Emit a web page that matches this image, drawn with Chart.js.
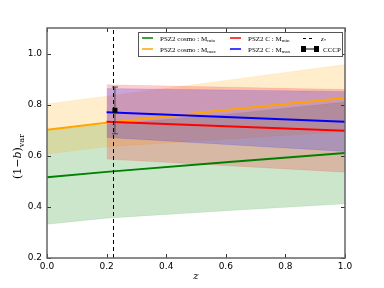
<!DOCTYPE html>
<html>
<head>
<meta charset="UTF-8">
<title>(1-b) vs z</title>
<script src="https://cdn.jsdelivr.net/npm/chart.js"></script>
<style>
    body { margin: 0; background: #fff; }
    #wrap { width: 384px; height: 288px; }
</style>
</head>
<body>
<div id="wrap"><canvas id="chart" width="384" height="288"></canvas></div>
<script>
// tick labels
const xTicks = [0.0, 0.2, 0.4, 0.6, 0.8, 1.0];
const yTicks = [0.2, 0.4, 0.6, 0.8, 1.0];

// PSZ2 cosmo : Mmin (green)
const cosmoMinZ = [0.0, 0.2, 0.6, 1.0];
const cosmoMinMid = [0.516, 0.537, 0.575, 0.611];
const cosmoMinLo = [0.332, 0.356, 0.385, 0.412];
const cosmoMinHi = [0.700, 0.722, 0.762, 0.810];

// PSZ2 cosmo : Mmax (orange)
const cosmoMaxZ = [0.0, 0.2, 0.6, 1.0];
const cosmoMaxMid = [0.702, 0.729, 0.779, 0.826];
const cosmoMaxLo = [0.607, 0.635, 0.665, 0.695];
const cosmoMaxHi = [0.803, 0.833, 0.895, 0.957];

// PSZ2 C : Mmin (red)
const cMinZ = [0.2, 1.0];
const cMinMid = [0.733, 0.698];
const cMinLo = [0.587, 0.536];
const cMinHi = [0.878, 0.859];

// PSZ2 C : Mmax (blue)
const cMaxZ = [0.2, 1.0];
const cMaxMid = [0.770, 0.733];
const cMaxLo = [0.672, 0.617];
const cMaxHi = [0.863, 0.852];

// z* and CCCP point
const zStar = 0.222;
const cccpZ = 0.228;
const cccpVal = 0.778;
const cccpLo = 0.686;
const cccpHi = 0.869;

const pts = (xs, ys) => xs.map((x, i) => ({ x: x, y: ys[i] }));

function band(xs, hi, lo, fillColor, order) {
    return [
        { data: pts(xs, hi), fill: '+1', backgroundColor: fillColor, borderColor: fillColor,
          borderWidth: 0.5, pointRadius: 0, order: order },
        { data: pts(xs, lo), fill: false, borderColor: fillColor, borderWidth: 0.5,
          pointRadius: 0, order: order }
    ];
}

function line(xs, ys, color, order) {
    return { data: pts(xs, ys), fill: false, borderColor: color, borderWidth: 2,
             pointRadius: 0, order: order };
}

const datasets = [
    ...band(cosmoMinZ, cosmoMinHi, cosmoMinLo, 'rgba(0,128,0,0.2)', 13),
    ...band(cosmoMaxZ, cosmoMaxHi, cosmoMaxLo, 'rgba(255,165,0,0.2)', 12),
    ...band(cMinZ, cMinHi, cMinLo, 'rgba(255,0,0,0.2)', 11),
    ...band(cMaxZ, cMaxHi, cMaxLo, 'rgba(0,0,255,0.2)', 10),
    line(cosmoMinZ, cosmoMinMid, '#008000', 4),
    line(cosmoMaxZ, cosmoMaxMid, '#ffa500', 3),
    line(cMinZ, cMinMid, '#ff0000', 2),
    line(cMaxZ, cMaxMid, '#0000ff', 1)
];

// draw text pieces one after another
function drawParts(ctx, x, y, parts) {
    ctx.textAlign = 'left';
    ctx.textBaseline = 'alphabetic';
    parts.forEach(p => {
        ctx.font = p.font;
        ctx.fillText(p.t, x, y + (p.dy || 0));
        x += ctx.measureText(p.t).width;
    });
    return x;
}

const extras = {
    id: 'extras',
    afterDatasetsDraw(chart) {
        const ctx = chart.ctx;
        const xs = chart.scales.x, ys = chart.scales.y;
        const a = chart.chartArea;
        ctx.save();
        // z* dashed line
        ctx.strokeStyle = '#000';
        ctx.lineWidth = 1;
        ctx.setLineDash([4, 3]);
        const zx = Math.round(xs.getPixelForValue(zStar)) + 0.5;
        ctx.beginPath();
        ctx.moveTo(zx, a.bottom);
        ctx.lineTo(zx, a.top);
        ctx.stroke();
        ctx.setLineDash([]);
        // CCCP error bar
        const cx = xs.getPixelForValue(cccpZ);
        const yTop = ys.getPixelForValue(cccpHi), yBot = ys.getPixelForValue(cccpLo);
        ctx.strokeStyle = '#444';
        ctx.beginPath();
        ctx.moveTo(cx, yTop); ctx.lineTo(cx, yBot);
        ctx.moveTo(cx - 3, yTop); ctx.lineTo(cx + 3, yTop);
        ctx.moveTo(cx - 3, yBot); ctx.lineTo(cx + 3, yBot);
        ctx.stroke();
        ctx.fillStyle = '#000';
        const cy = ys.getPixelForValue(cccpVal);
        ctx.fillRect(cx - 2.5, cy - 2.5, 5, 5);
        ctx.restore();
    },
    afterDraw(chart) {
        const ctx = chart.ctx;
        const xs = chart.scales.x, ys = chart.scales.y;
        const a = chart.chartArea;
        ctx.save();
        // ticks inside, all four sides
        ctx.strokeStyle = '#333';
        ctx.lineWidth = 1;
        ctx.beginPath();
        xTicks.forEach(v => {
            const px = Math.round(xs.getPixelForValue(v)) + 0.5;
            ctx.moveTo(px, a.bottom); ctx.lineTo(px, a.bottom - 4);
            ctx.moveTo(px, a.top); ctx.lineTo(px, a.top + 4);
        });
        yTicks.forEach(v => {
            const py = Math.round(ys.getPixelForValue(v)) + 0.5;
            ctx.moveTo(a.left, py); ctx.lineTo(a.left + 4, py);
            ctx.moveTo(a.right, py); ctx.lineTo(a.right - 4, py);
        });
        ctx.stroke();
        // frame
        ctx.strokeStyle = '#666';
        ctx.lineWidth = 1.5;
        ctx.strokeRect(a.left, a.top, a.right - a.left, a.bottom - a.top);

        // axis titles
        ctx.fillStyle = '#000';
        ctx.save();
        ctx.translate(21, 156);
        ctx.rotate(-Math.PI / 2);
        drawParts(ctx, -23, 0, [
            { t: '(1\u2212', font: '11px "DejaVu Serif", serif' },
            { t: 'b', font: 'italic 11px "DejaVu Serif", serif' },
            { t: ')', font: '11px "DejaVu Serif", serif' },
            { t: 'var', font: '8px "DejaVu Serif", serif', dy: 3 }
        ]);
        ctx.restore();
        ctx.font = 'italic 10px "DejaVu Serif", serif';
        ctx.textAlign = 'center';
        ctx.fillText('z', (a.left + a.right) / 2, 279);

        // legend
        const lx = 138, ly = 32, lw = 204, lh = 24;
        ctx.fillStyle = '#fff';
        ctx.fillRect(lx, ly, lw, lh);
        ctx.strokeStyle = '#555';
        ctx.lineWidth = 1;
        ctx.strokeRect(lx + 0.5, ly + 0.5, lw, lh);
        const f = '7px "Liberation Serif", serif';
        const fs = '5px "Liberation Serif", serif';
        const rows = [38, 49];
        const items = [
            { col: 0, row: 0, color: '#008000', label: 'PSZ2 cosmo : M', sub: 'min' },
            { col: 0, row: 1, color: '#ffa500', label: 'PSZ2 cosmo : M', sub: 'max' },
            { col: 1, row: 0, color: '#ff0000', label: 'PSZ2 C : M', sub: 'min' },
            { col: 1, row: 1, color: '#0000ff', label: 'PSZ2 C : M', sub: 'max' }
        ];
        const colX = [142, 230];
        items.forEach(it => {
            const x0 = colX[it.col], y0 = rows[it.row];
            ctx.strokeStyle = it.color;
            ctx.lineWidth = 1.5;
            ctx.beginPath();
            ctx.moveTo(x0, y0); ctx.lineTo(x0 + 11, y0);
            ctx.stroke();
            ctx.fillStyle = '#000';
            drawParts(ctx, x0 + 18, y0 + 2.5, [
                { t: it.label, font: f },
                { t: it.sub, font: fs, dy: 1.5 }
            ]);
        });
        // z* legend entry
        ctx.strokeStyle = '#000';
        ctx.lineWidth = 1;
        ctx.setLineDash([3, 3]);
        ctx.beginPath();
        ctx.moveTo(303, rows[0] + 0.5); ctx.lineTo(314, rows[0] + 0.5);
        ctx.stroke();
        ctx.setLineDash([]);
        drawParts(ctx, 321, rows[0] + 2.5, [
            { t: 'z', font: 'italic 7px "Liberation Serif", serif' },
            { t: '*', font: fs, dy: 1.5 }
        ]);
        // CCCP legend entry
        ctx.strokeStyle = '#000';
        ctx.beginPath();
        ctx.moveTo(304, rows[1]); ctx.lineTo(316, rows[1]);
        ctx.moveTo(304, rows[1] - 3); ctx.lineTo(304, rows[1] + 3);
        ctx.moveTo(316, rows[1] - 3); ctx.lineTo(316, rows[1] + 3);
        ctx.stroke();
        ctx.fillStyle = '#000';
        ctx.fillRect(301, rows[1] - 3, 5, 6);
        ctx.fillRect(314, rows[1] - 3, 5, 6);
        drawParts(ctx, 323, rows[1] + 2.5, [{ t: 'CCCP', font: f }]);
        ctx.restore();
    }
};

new Chart(document.getElementById('chart'), {
    type: 'line',
    data: { datasets: datasets },
    options: {
        responsive: false,
        devicePixelRatio: 1,
        animation: false,
        layout: { padding: { top: 28, right: 39, left: 0, bottom: 0 } },
        plugins: { legend: { display: false }, tooltip: { enabled: false } },
        elements: { line: { tension: 0 } },
        scales: {
            x: {
                type: 'linear',
                min: 0, max: 1,
                afterFit: s => { s.height = 30; },
                afterBuildTicks: s => { s.ticks = xTicks.map(v => ({ value: v })); },
                grid: { display: false, drawTicks: false },
                border: { display: false },
                ticks: {
                    padding: 3,
                    color: '#000',
                    font: { family: '"DejaVu Sans", sans-serif', size: 9 },
                    callback: v => v.toFixed(1)
                }
            },
            y: {
                type: 'linear',
                min: 0.2, max: 1.1,
                afterFit: s => { s.width = 47; },
                afterBuildTicks: s => { s.ticks = yTicks.map(v => ({ value: v })); },
                grid: { display: false, drawTicks: false },
                border: { display: false },
                ticks: {
                    padding: 5,
                    color: '#000',
                    font: { family: '"DejaVu Sans", sans-serif', size: 9 },
                    callback: v => v.toFixed(1)
                }
            }
        }
    },
    plugins: [extras]
});
</script>
</body>
</html>
